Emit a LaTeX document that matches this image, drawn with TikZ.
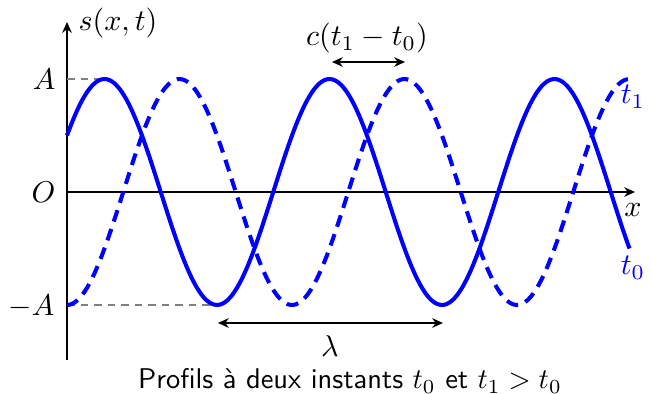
\documentclass[tikz,border=0pt]{standalone}
\usetikzlibrary{arrows.meta}
\begin{document}
\begin{tikzpicture}[x=0.3333pt,y=-0.3333pt,
  axis/.style={line width=0.7pt,-{Stealth[length=3.6pt,width=3.2pt]}},
  dim/.style={line width=0.7pt,{Stealth[length=3.6pt,width=3.2pt]}-{Stealth[length=3.6pt,width=3.2pt]}},
  wave/.style={blue,line width=1.35pt,smooth,samples=200},
  guide/.style={gray,line width=0.4pt,dash pattern=on 2.5pt off 2pt},
  lbl/.style={inner sep=0pt},
  bluelbl/.style={inner sep=0pt,text=blue}]
\useasboundingbox (0,0) rectangle (651,394);
% axes
\coordinate (O) at (67,192);
\coordinate (ybot) at (67,360);
\coordinate (ytop) at (67,22);
\coordinate (xend) at (635,192);
\draw[axis] (ybot) -- (ytop);
\draw[axis] (O) -- (xend);
% guides
\coordinate (Aleft) at (67,79);
\coordinate (Apeak) at (105,79);
\coordinate (mAleft) at (67,305);
\coordinate (mAtrough) at (218,305);
\draw[guide] (Aleft) -- (Apeak);
\draw[guide] (mAleft) -- (mAtrough);
% waves
\draw[wave] plot[domain=0:562.5] ({\x+67},{192-113*sin(1.6*\x+30)});
\draw[wave,dash pattern=on 4pt off 2.6pt] plot[domain=0:562.5] ({\x+67},{192-113*sin(1.6*\x-90)});
% labels
\node[lbl,anchor=east] (lA) at (56,79) {$A$};
\node[lbl,anchor=east] (lO) at (56,192) {$O$};
\node[lbl,anchor=east] (lmA) at (55,306) {$-A$};
\node[lbl,anchor=west] (ls) at (78,23) {$s(x,t)$};
\node[lbl] (lx) at (633,210) {$x$};
\node[bluelbl] (lt1) at (633,97) {$t_1$};
\node[bluelbl] (lt0) at (633,268) {$t_0$};
% c(t1-t0)
\coordinate (c1) at (332,62);
\coordinate (c2) at (405,62);
\draw[dim] (c1) -- (c2);
\node[lbl] (lc) at (367,38) {$c(t_1-t_0)$};
% lambda
\coordinate (l1) at (218,323);
\coordinate (l2) at (443,323);
\draw[dim] (l1) -- (l2);
\node[lbl] (llam) at (330,346) {$\lambda$};
% caption
\node[lbl,scale=0.95] (cap) at (350,381) {\sffamily Profils à deux instants $t_0$ et $t_1>t_0$};
\end{tikzpicture}
\end{document}
